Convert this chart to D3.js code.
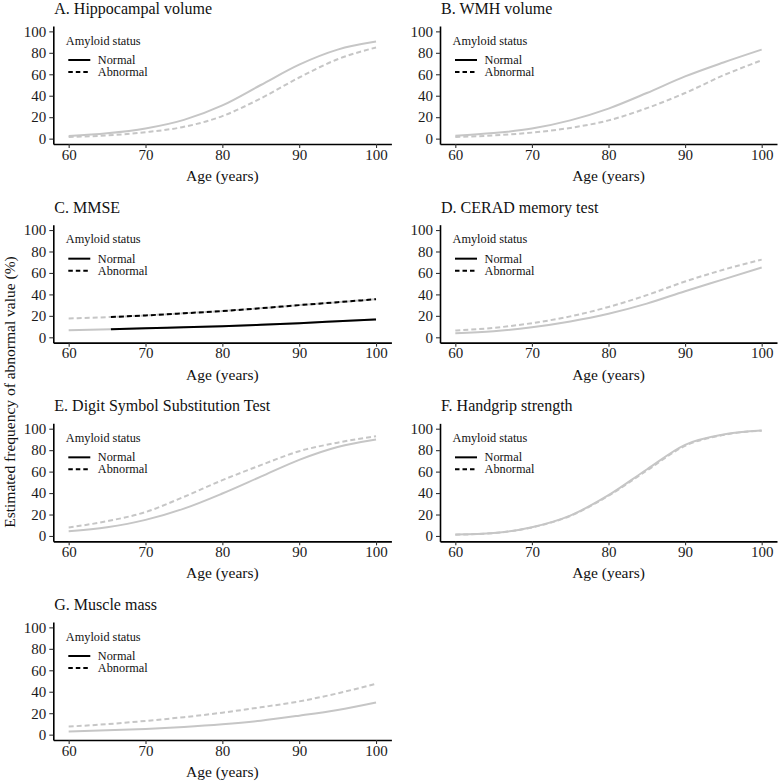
<!DOCTYPE html>
<html><head><meta charset="utf-8">
<script src="https://cdn.jsdelivr.net/npm/d3@7"></script>
<style>body{margin:0;background:#fff}</style>
</head><body>
<svg id="c" width="780" height="783"></svg>
<script>
// ---------- data ----------
const ages = [60, 65, 70, 75, 80, 85, 90, 95, 100];
const mmseAges = [60, 65.5, 70, 75, 80, 85, 90, 95, 100];
const mmseHighlightFrom = 65.5;

const panelTitles = [
  "A. Hippocampal volume",
  "B. WMH volume",
  "C. MMSE",
  "D. CERAD memory test",
  "E. Digit Symbol Substitution Test",
  "F. Handgrip strength",
  "G. Muscle mass"
];

const hippoNormal   = [2.5, 5, 9.5, 17.5, 31, 50, 69, 83, 90.5];
const hippoAbnormal = [1.5, 3, 6, 11, 21, 37.5, 57, 74, 85];
const wmhNormal     = [2.8, 5.2, 9.4, 17, 28, 42.5, 58, 71, 83];
const wmhAbnormal   = [1.5, 3, 5.6, 10, 17, 28.4, 42.5, 59, 73];
const mmseNormal    = [6.6, 7.5, 8.5, 9.4, 10.4, 11.7, 13.2, 14.9, 16.7];
const mmseAbnormal  = [17.6, 18.9, 20.4, 22.4, 24.5, 27.1, 30, 32.7, 35.5];
const ceradNormal   = [3.8, 5.7, 9.4, 14.8, 22, 31.4, 43, 54, 65];
const ceradAbnormal = [6.3, 8.8, 13.2, 19.5, 28.3, 39.3, 52, 63, 72.4];
const dsstNormal    = [4.4, 8.2, 15, 25.5, 39.6, 55.3, 71, 83, 90];
const dsstAbnormal  = [7.9, 13.8, 22.3, 36.5, 52, 66, 79, 87, 93];
const gripNormal    = [1.3, 2.8, 8.2, 19, 38, 62, 85, 94.6, 98.3];
const gripAbnormal  = [1.2, 2.7, 8, 18.7, 37.5, 61, 84, 94.2, 98.2];
const muscleNormal  = [3, 4, 5.3, 7.2, 9.7, 13, 17.7, 23, 30];
const muscleAbnormal= [7.5, 9.8, 12.8, 16.3, 20.5, 25.5, 31, 38.5, 47.5];

const normalSeries   = [hippoNormal, wmhNormal, mmseNormal, ceradNormal, dsstNormal, gripNormal, muscleNormal];
const abnormalSeries = [hippoAbnormal, wmhAbnormal, mmseAbnormal, ceradAbnormal, dsstAbnormal, gripAbnormal, muscleAbnormal];
const panelAges      = [ages, ages, mmseAges, ages, ages, ages, ages];
const highlightFrom  = [null, null, mmseHighlightFrom, null, null, null, null];

const xTicks = [60, 70, 80, 90, 100];
const yTicks = [0, 20, 40, 60, 80, 100];
const xTitle = "Age (years)";
const yTitle = "Estimated frequency of abnormal value (%)";
const legendTitle = "Amyloid status";
const legendLabels = ["Normal", "Abnormal"];

// ---------- layout ----------
const FONT = "Liberation Serif";
const GRAY = "#c6c6c6";
const colLeft = [53.3, 440];
const colRight = [391.4, 777];
const rowTop0 = 26, rowStep = 198.67, panelH = 118;

const svg = d3.select("#c");
svg.append("rect").attr("width", 780).attr("height", 783).attr("fill", "#fff");

function txt(sel, size) {
  return sel.style("font-family", FONT).attr("font-size", size).attr("fill", "#111");
}

txt(svg.append("text"), 15.5)
  .attr("transform", "translate(15,392) rotate(-90)")
  .attr("text-anchor", "middle")
  .text(yTitle);

panelTitles.forEach((title, i) => {
  const col = i % 2, row = Math.floor(i / 2);
  const x0 = colLeft[col], x1 = colRight[col];
  const top = rowTop0 + row * rowStep, bottom = top + panelH;
  const x = d3.scaleLinear().domain([58, 102]).range([x0, x1]);
  const y = d3.scaleLinear().domain([-5, 105]).range([bottom, top]);
  const g = svg.append("g");

  txt(g.append("text"), 16).attr("x", x0 + 1).attr("y", top - 12).text(title);

  const xa = g.append("g").attr("transform", `translate(0,${bottom})`)
    .call(d3.axisBottom(x).tickValues(xTicks).tickSize(4).tickPadding(1).tickSizeOuter(0));
  const ya = g.append("g").attr("transform", `translate(${x0},0)`)
    .call(d3.axisLeft(y).tickValues(yTicks).tickSize(4).tickPadding(3).tickSizeOuter(0));
  [xa, ya].forEach(a => {
    a.attr("font-family", null);
    a.select(".domain").attr("stroke", "#000").attr("stroke-width", 1.6);
    a.selectAll(".tick line").attr("stroke", "#333").attr("stroke-width", 1.1);
    a.selectAll(".tick text").style("font-family", FONT).attr("font-size", 15).attr("fill", "#1a1a1a");
  });
  xa.selectAll(".tick text").attr("dy", "0.71em");

  txt(g.append("text"), 15.5).attr("x", (x0 + x1) / 2).attr("y", bottom + 37)
    .attr("text-anchor", "middle").text(xTitle);

  const a = panelAges[i];
  const line = d3.line().x(d => x(d[0])).y(d => y(d[1])).curve(d3.curveMonotoneX);
  const nPts = a.map((v, k) => [v, normalSeries[i][k]]);
  const aPts = a.map((v, k) => [v, abnormalSeries[i][k]]);
  g.append("path").attr("d", line(nPts)).attr("fill", "none")
    .attr("stroke", GRAY).attr("stroke-width", 2);
  g.append("path").attr("d", line(aPts)).attr("fill", "none")
    .attr("stroke", GRAY).attr("stroke-width", 2).attr("stroke-dasharray", "5,3");
  if (highlightFrom[i] != null) {
    const h = highlightFrom[i];
    g.append("path").attr("d", line(nPts.filter(p => p[0] >= h))).attr("fill", "none")
      .attr("stroke", "#000").attr("stroke-width", 2);
    g.append("path").attr("d", line(aPts.filter(p => p[0] >= h))).attr("fill", "none")
      .attr("stroke", "#000").attr("stroke-width", 2).attr("stroke-dasharray", "5,3");
  }

  const lg = g.append("g").attr("transform", `translate(${x0},${top})`);
  txt(lg.append("text"), 12.3).attr("x", 12.5).attr("y", 18.5).text(legendTitle);
  legendLabels.forEach((lab, k) => {
    const ly = 34 + k * 12;
    lg.append("line").attr("x1", 15).attr("x2", 37).attr("y1", ly).attr("y2", ly)
      .attr("stroke", "#000").attr("stroke-width", 2)
      .attr("stroke-dasharray", k === 1 ? "4.5,3" : null);
    txt(lg.append("text"), 12.3).attr("x", 44.5).attr("y", ly + 4).text(lab);
  });
});
</script>
</body></html>
